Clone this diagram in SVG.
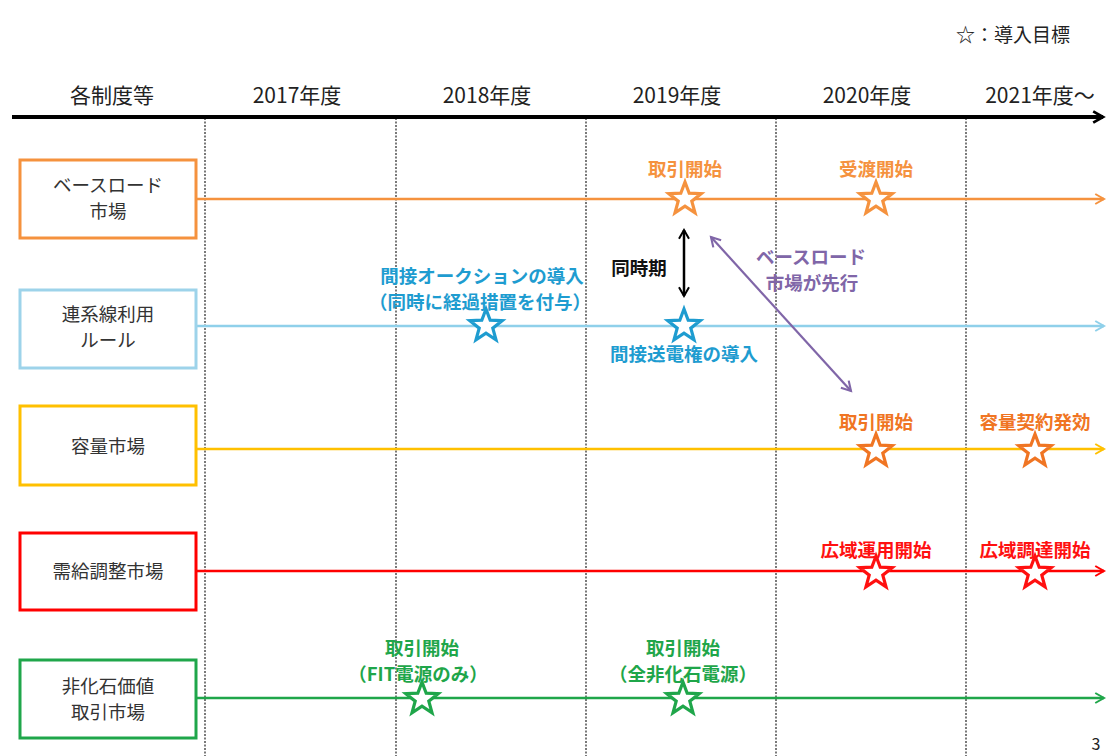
<svg xmlns="http://www.w3.org/2000/svg" xmlns:xlink="http://www.w3.org/1999/xlink" width="1108" height="756" viewBox="0 0 1108 756">
<style>
text{font-family:"Noto Sans CJK JP","Noto Sans",sans-serif;text-anchor:middle}
.hdr{font-size:21px;fill:#222}
.box{fill:#fff;stroke-width:3}
.bt{font-size:18.5px;fill:#333}
.lbl{font-size:18.5px;font-weight:bold}
.grid{stroke:#333;stroke-width:1.3;stroke-dasharray:2 1.5}
.star{stroke-width:3.2;fill:#fff}
</style>
<defs>
<path id="star" d="M0,-17 L4.2,-5.8 L16.17,-5.25 L6.8,2.21 L10,13.75 L0,7.15 L-10,13.75 L-6.8,2.21 L-16.17,-5.25 L-4.2,-5.8 Z"/>
<marker id="mk" viewBox="0 0 10 10" refX="8" refY="5" markerWidth="3.5" markerHeight="5" orient="auto" markerUnits="strokeWidth"><path d="M1,1 L8,5 L1,9" fill="none" stroke="#000" stroke-width="2"/></marker>
<marker id="mo" viewBox="0 0 10 10" refX="8" refY="5" markerWidth="5" markerHeight="7" orient="auto" markerUnits="strokeWidth"><path d="M1,1 L8,5 L1,9" fill="none" stroke="#F5923E" stroke-width="1.6"/></marker>
<marker id="mb" viewBox="0 0 10 10" refX="8" refY="5" markerWidth="5" markerHeight="7" orient="auto" markerUnits="strokeWidth"><path d="M1,1 L8,5 L1,9" fill="none" stroke="#8FD0EA" stroke-width="1.6"/></marker>
<marker id="my" viewBox="0 0 10 10" refX="8" refY="5" markerWidth="5" markerHeight="7" orient="auto" markerUnits="strokeWidth"><path d="M1,1 L8,5 L1,9" fill="none" stroke="#FFC000" stroke-width="1.6"/></marker>
<marker id="mr" viewBox="0 0 10 10" refX="8" refY="5" markerWidth="5" markerHeight="7" orient="auto" markerUnits="strokeWidth"><path d="M1,1 L8,5 L1,9" fill="none" stroke="#FF0000" stroke-width="1.6"/></marker>
<marker id="mg" viewBox="0 0 10 10" refX="8" refY="5" markerWidth="5" markerHeight="7" orient="auto" markerUnits="strokeWidth"><path d="M1,1 L8,5 L1,9" fill="none" stroke="#1FA64A" stroke-width="1.6"/></marker>
<marker id="mblk" viewBox="0 0 10 10" refX="8" refY="5" markerWidth="5" markerHeight="7" orient="auto-start-reverse" markerUnits="strokeWidth"><path d="M1,1 L8,5 L1,9" fill="none" stroke="#000" stroke-width="1.6"/></marker>
<marker id="mp" viewBox="0 0 10 10" refX="8" refY="5" markerWidth="6" markerHeight="8" orient="auto-start-reverse" markerUnits="strokeWidth"><path d="M1,1 L8,5 L1,9" fill="none" stroke="#8066A8" stroke-width="1.6"/></marker>
</defs>
<rect width="1108" height="756" fill="#fff"/>

<text x="1013" y="42" style="font-size:19px;fill:#222">☆：導入目標</text>

<g id="header">
<text class="hdr" x="112" y="103">各制度等</text>
<text class="hdr" x="297" y="103">2017年度</text>
<text class="hdr" x="487" y="103">2018年度</text>
<text class="hdr" x="677" y="103">2019年度</text>
<text class="hdr" x="867" y="103">2020年度</text>
<text class="hdr" x="1040" y="103">2021年度～</text>
</g>

<g id="grid">
<line class="grid" x1="205" y1="118" x2="205" y2="756"/>
<line class="grid" x1="396" y1="118" x2="396" y2="756"/>
<line class="grid" x1="586" y1="118" x2="586" y2="756"/>
<line class="grid" x1="776" y1="118" x2="776" y2="756"/>
<line class="grid" x1="966" y1="118" x2="966" y2="756"/>
</g>

<g id="connectors" fill="none">
<line x1="12" y1="117" x2="1103" y2="117" stroke="#000" stroke-width="4" marker-end="url(#mk)"/>
<line x1="196" y1="199" x2="1104" y2="199" stroke="#F5923E" stroke-width="2.5" marker-end="url(#mo)"/>
<line x1="196" y1="326" x2="1104" y2="326" stroke="#8FD0EA" stroke-width="2.5" marker-end="url(#mb)"/>
<line x1="196" y1="449" x2="1104" y2="449" stroke="#FFC000" stroke-width="2.5" marker-end="url(#my)"/>
<line x1="196" y1="571" x2="1104" y2="571" stroke="#FF0000" stroke-width="2.5" marker-end="url(#mr)"/>
<line x1="196" y1="698" x2="1104" y2="698" stroke="#1FA64A" stroke-width="2.5" marker-end="url(#mg)"/>
<line x1="684" y1="230" x2="684" y2="296" stroke="#000" stroke-width="2.5" marker-start="url(#mblk)" marker-end="url(#mblk)"/>
<line x1="711" y1="237" x2="851" y2="391" stroke="#8066A8" stroke-width="2.2" marker-start="url(#mp)" marker-end="url(#mp)"/>
</g>

<g id="n-baseload">
<rect class="box" x="20" y="160" width="176" height="78" stroke="#F5923E"/>
<text class="bt" x="108" y="192">ベースロード</text>
<text class="bt" x="108" y="218">市場</text>
</g>
<g id="n-interconnect">
<rect class="box" x="20" y="290" width="176" height="78" stroke="#9DD3EA"/>
<text class="bt" x="108" y="321">連系線利用</text>
<text class="bt" x="108" y="347">ルール</text>
</g>
<g id="n-capacity">
<rect class="box" x="20" y="406" width="176" height="79" stroke="#FFC000"/>
<text class="bt" x="108" y="453">容量市場</text>
</g>
<g id="n-balancing">
<rect class="box" x="20" y="533" width="176" height="77" stroke="#FF0000"/>
<text class="bt" x="108" y="578">需給調整市場</text>
</g>
<g id="n-nonfossil">
<rect class="box" x="20" y="660" width="176" height="78" stroke="#1FA64A"/>
<text class="bt" x="108" y="693">非化石価値</text>
<text class="bt" x="108" y="719">取引市場</text>
</g>

<g id="m-baseload" fill="#F5923E">
<text class="lbl" x="685" y="176">取引開始</text>
<text class="lbl" x="876" y="176">受渡開始</text>
<use href="#star" x="685" y="199" class="star" stroke="#F5923E"/>
<use href="#star" x="876" y="199" class="star" stroke="#F5923E"/>
</g>

<g id="m-interconnect" fill="#1E9CD0">
<text class="lbl" x="482" y="283">間接オークションの導入</text>
<text class="lbl" x="480" y="309">（同時に経過措置を付与）</text>
<text class="lbl" x="684" y="361">間接送電権の導入</text>
<use href="#star" x="486" y="326" class="star" stroke="#1E9CD0"/>
<use href="#star" x="684" y="326" class="star" stroke="#1E9CD0"/>
</g>

<g id="m-sync">
<text class="lbl" x="639" y="275" fill="#111">同時期</text>
</g>

<g id="m-lead" fill="#8066A8">
<text class="lbl" x="811" y="264">ベースロード</text>
<text class="lbl" x="812" y="290">市場が先行</text>
</g>

<g id="m-capacity" fill="#F07523">
<text class="lbl" x="876" y="429">取引開始</text>
<text class="lbl" x="1035" y="429">容量契約発効</text>
<use href="#star" x="876" y="451" class="star" stroke="#F07523"/>
<use href="#star" x="1035" y="451" class="star" stroke="#F07523"/>
</g>

<g id="m-balancing" fill="#FF1010">
<text class="lbl" x="876" y="557">広域運用開始</text>
<text class="lbl" x="1035" y="557">広域調達開始</text>
<use href="#star" x="876" y="573" class="star" stroke="#FF1010"/>
<use href="#star" x="1035" y="573" class="star" stroke="#FF1010"/>
</g>

<g id="m-nonfossil" fill="#1FA64A">
<text class="lbl" x="422" y="655">取引開始</text>
<text class="lbl" x="418" y="681">（FIT電源のみ）</text>
<text class="lbl" x="683" y="655">取引開始</text>
<text class="lbl" x="683" y="681">（全非化石電源）</text>
<use href="#star" x="422" y="699" class="star" stroke="#1FA64A"/>
<use href="#star" x="683" y="699" class="star" stroke="#1FA64A"/>
</g>

<text x="1096" y="750" style="font-size:16px;fill:#222">3</text>
</svg>
